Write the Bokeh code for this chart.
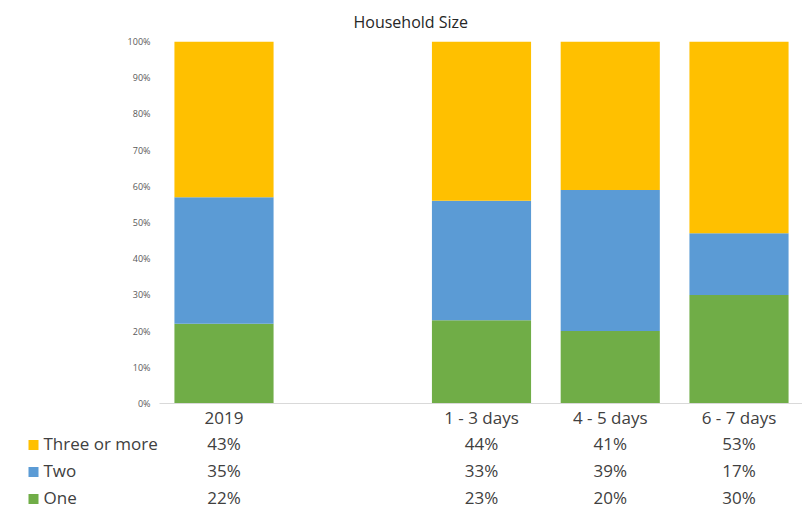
from bokeh.plotting import figure
from bokeh.layouts import column, row
from bokeh.models import (Range1d, FactorRange, FixedTicker, NumeralTickFormatter,
                          ColumnDataSource)
from bokeh.core.properties import value
from bokeh.embed import file_html
from bokeh.resources import INLINE

# ---- data -------------------------------------------------------------
categories = ["2019", "", "1 - 3 days", "4 - 5 days", "6 - 7 days"]
one = [22, None, 23, 20, 30]
two = [35, None, 33, 39, 17]
three = [43, None, 44, 41, 53]
series_names = ["Three or more", "Two", "One"]
y_ticks = [0, 10, 20, 30, 40, 50, 60, 70, 80, 90, 100]
title_text = "Household Size"

# ---- style / layout ---------------------------------------------------
FONT = "Open Sans"
C_ONE, C_TWO, C_THREE = "#70AD47", "#5B9BD5", "#FFC000"
TXT = "#404040"

W = 802
TOP_H = 431
BOT_H = 516 - TOP_H
FRAME_LEFT = 159
PITCH = 128.75          # px per category slot
FIRST_CENTER = 223.5    # px of first category centre


def px_to_x(px):
    return (px - FIRST_CENTER) / PITCH


idx = [i for i, c in enumerate(categories) if c]
src = ColumnDataSource(dict(
    x=idx,
    One=[one[i] / 100 for i in idx],
    Two=[two[i] / 100 for i in idx],
    Three=[three[i] / 100 for i in idx],
))

# ---- top: stacked bars ------------------------------------------------
p = figure(width=W, height=TOP_H, output_backend="svg", toolbar_location=None,
           x_range=Range1d(px_to_x(FRAME_LEFT), px_to_x(W)),
           y_range=Range1d(0, 1.0),
           min_border_left=FRAME_LEFT, min_border_right=0,
           min_border_top=41, min_border_bottom=28)
p.grid.visible = False
p.outline_line_color = None

p.vbar_stack(["One", "Two", "Three"], x="x", width=0.77, source=src,
             color=[C_ONE, C_TWO, C_THREE], line_color=None)

# y axis
ay = p.yaxis[0]
ay.ticker = FixedTicker(ticks=[t / 100 for t in y_ticks])
ay.formatter = NumeralTickFormatter(format="0%")
ay.axis_line_color = None
ay.major_tick_line_color = None
ay.minor_tick_line_color = None
ay.major_tick_out = 0
ay.major_tick_in = 0
ay.major_label_standoff = 9
ay.major_label_text_font = FONT
ay.major_label_text_font_size = "9px"
ay.major_label_text_color = "#595959"

# x axis = category row of the table
ax = p.xaxis[0]
ax.ticker = FixedTicker(ticks=idx)
ax.major_label_overrides = {i: categories[i] for i in idx}
ax.axis_line_color = "#d9d9d9"
ax.axis_line_width = 1
ax.major_tick_line_color = None
ax.minor_tick_line_color = None
ax.major_tick_out = 0
ax.major_tick_in = 0
ax.major_label_standoff = 2
ax.major_label_text_font = FONT
ax.major_label_text_font_size = "17px"
ax.major_label_text_color = TXT

# title
p.title.text = title_text
p.title.align = "left"
p.title.offset = 194
p.title.standoff = 17
p.title.text_font = FONT
p.title.text_font_style = "normal"
p.title.text_font_size = "16px"
p.title.text_color = "#262626"

# ---- bottom: legend keys + data table ---------------------------------
rows_x, rows_y, rows_t = [], [], []
for name, vals in zip(series_names, [three, two, one]):
    for i in idx:
        rows_x.append(i)
        rows_y.append(name)
        rows_t.append(f"{vals[i]}%")
tab = ColumnDataSource(dict(x=rows_x, y=rows_y, t=rows_t))
leg = ColumnDataSource(dict(y=series_names, c=[C_THREE, C_TWO, C_ONE]))


def bare(fig):
    fig.grid.visible = False
    fig.outline_line_color = None
    return fig


lf = bare(figure(width=FRAME_LEFT, height=BOT_H, output_backend="svg",
                 toolbar_location=None, x_range=Range1d(0, FRAME_LEFT),
                 y_range=FactorRange(factors=list(reversed(series_names))),
                 x_axis_location=None, y_axis_location=None,
                 min_border_left=0, min_border_right=0,
                 min_border_top=0, min_border_bottom=4))
lf.scatter(x=33, y="y", source=leg, marker="square", size=10,
           fill_color="c", line_color=None)
lf.text(x=43, y="y", text="y", source=leg, text_align="left",
        text_baseline="middle", text_font=value(FONT), text_font_size="17px",
        text_color=TXT, y_offset=-2)

q = bare(figure(width=W - FRAME_LEFT, height=BOT_H, output_backend="svg",
                toolbar_location=None,
                x_range=Range1d(px_to_x(FRAME_LEFT), px_to_x(W)),
                y_range=FactorRange(factors=list(reversed(series_names))),
                x_axis_location=None, y_axis_location=None,
                min_border_left=0, min_border_right=0,
                min_border_top=0, min_border_bottom=4))
q.text(x="x", y="y", text="t", source=tab, text_align="center",
       text_baseline="middle", text_font=value(FONT), text_font_size="17px",
       text_color=TXT, y_offset=-2)

layout = column(p, row(lf, q, spacing=0), spacing=0)
open("out.html", "w").write(file_html(layout, INLINE))
